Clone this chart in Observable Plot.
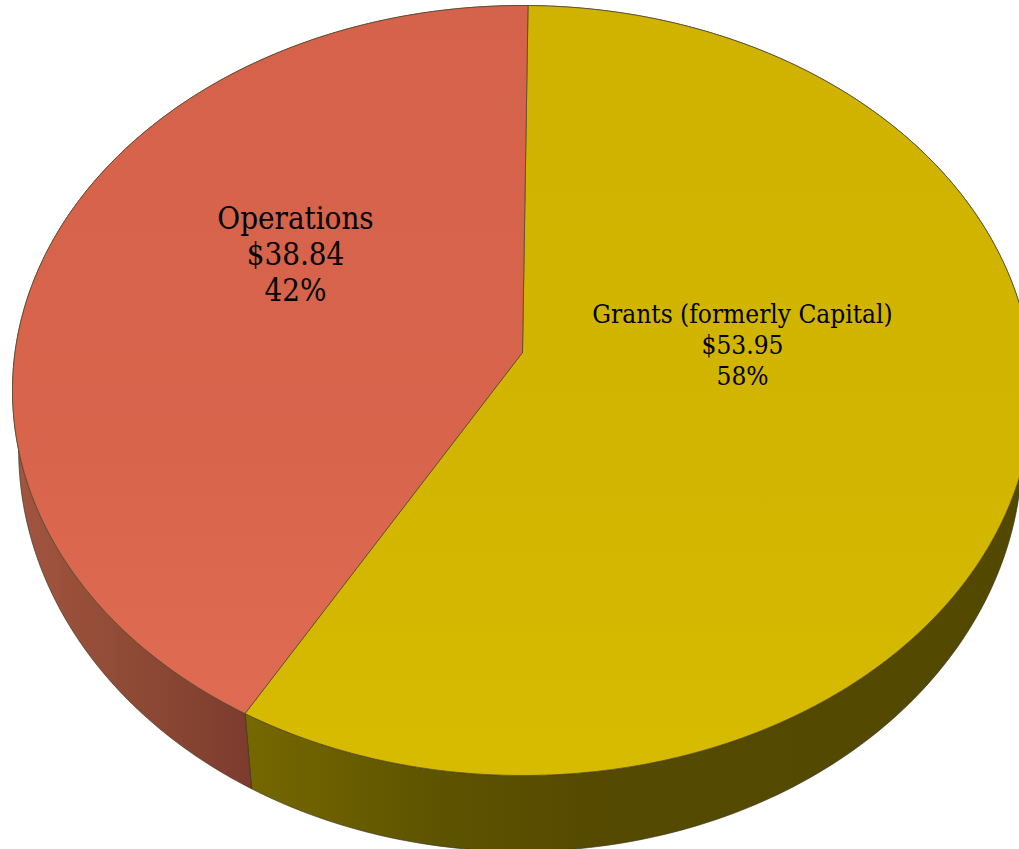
<!DOCTYPE html>
<html>
<head>
<meta charset="utf-8">
<script src="https://cdn.jsdelivr.net/npm/d3@7"></script>
<script src="https://cdn.jsdelivr.net/npm/@observablehq/plot@0.6"></script>
<style>
html,body{margin:0;padding:0;background:#fff;overflow:hidden}
svg{display:block}
</style>
</head>
<body>
<div id="chart"></div>
<script>
const categories = ["Grants (formerly Capital)", "Operations"];
const values = [53.95, 38.84];
const labelFontSizes = [26, 31];
const labelLineGaps = [31, 36];
const labelCentres = [[742, 345], [295, 255]];
const W = 1019, H = 849;

// page-pixel placement of the top rim ellipse
const xRange = [12, 1032], yRange = [5, 775];
const u = (p, r) => (p - r[0]) / (r[1] - r[0]) * 2 - 1;

// perspective tilt of the disc and lower rim relative to the top rim
const tilt = -0.0987;
const lower = {cx: -0.004, cy: 0.153, sx: 0.984, sy: 1.044, turn: -0.009};

const persp = (a) => {
  const sx = Math.sin(a), sy = -Math.cos(a), k = 1 + tilt * sy;
  return [sx * Math.sqrt(1 - tilt * tilt) / k, (sy + tilt) / k];
};

const pie = d3.pie().sort(null).startAngle(0.012).endAngle(2 * Math.PI + 0.012)(values);
const angles = (s) => d3.range(241).map(i => s.startAngle + (s.endAngle - s.startAngle) * i / 240);

const faces = pie.map(s => {
  const apex = [0, tilt];
  return [apex, ...angles(s).map(persp), apex];
});
const sides = pie.map(s => {
  const a = angles(s);
  const top = a.map(persp);
  const bottom = a.map(t => {
    const [x, y] = persp(t + lower.turn);
    return [lower.cx + lower.sx * x, lower.cy + lower.sy * y];
  }).reverse();
  return [...top, ...bottom, top[0]];
});

const fills = ["url(#grantsTop)", "url(#opsTop)"];
const sideFills = ["url(#grantsSide)", "url(#opsSide)"];

const defs = () => {
  const svg = d3.create("svg:defs");
  const grad = (id, x1, y1, x2, y2, stops) => {
    const g = svg.append("linearGradient").attr("id", id).attr("gradientUnits", "userSpaceOnUse")
      .attr("x1", x1).attr("y1", y1).attr("x2", x2).attr("y2", y2);
    stops.forEach(([o, c]) => g.append("stop").attr("offset", o).attr("stop-color", c));
  };
  grad("opsTop", 0, 0, 0, 714, [[0, "#D5624A"], [0.6, "#D8644C"], [1, "#DF6B52"]]);
  grad("grantsTop", 0, 0, 0, 775, [[0, "#CFB300"], [0.6, "#D1B500"], [1, "#D6BB00"]]);
  grad("opsSide", 15, 0, 252, 0, [[0, "#A25540"], [0.5, "#8E4A35"], [1, "#7C3B2D"]]);
  grad("grantsSide", 245, 0, 1019, 0, [[0, "#756800"], [0.25, "#5E5300"], [0.45, "#554A00"], [1, "#524800"]]);
  return svg.node();
};

const labelRows = categories.flatMap((c, i) => {
  const share = values[i] / d3.sum(values);
  return [c, "$" + values[i].toFixed(2), d3.format(".0%")(share)].map((text, r) => ({
    text,
    x: u(labelCentres[i][0], xRange),
    y: u(labelCentres[i][1] + (r - 1) * labelLineGaps[i], yRange),
    size: labelFontSizes[i]
  }));
});

const xy = {x: d => d[0], y: d => d[1]};
const chart = Plot.plot({
  width: W, height: H,
  marginTop: 0, marginRight: 0, marginBottom: 0, marginLeft: 0,
  style: {background: "#fff"},
  x: {domain: [-1, 1], range: xRange, axis: null},
  y: {domain: [-1, 1], range: yRange, axis: null},
  marks: [
    defs,
    ...sides.map((pts, i) => Plot.line(pts, {...xy, fill: sideFills[i], stroke: "#3b3320", strokeWidth: 0.9, strokeOpacity: 0.75, curve: "linear"})),
    ...faces.map((pts, i) => Plot.line(pts, {...xy, fill: fills[i], stroke: "#5a4a2a", strokeWidth: 1, strokeOpacity: 0.8, curve: "linear"})),
    ...labelFontSizes.map(size => Plot.text(labelRows.filter(d => d.size === size), {
      x: "x", y: "y", text: "text", fontSize: size,
      fontFamily: "DejaVu Serif Condensed, Liberation Serif", fill: "#000", textAnchor: "middle", lineAnchor: "middle"
    }))
  ]
});
document.getElementById("chart").append(chart);
</script>
</body>
</html>
